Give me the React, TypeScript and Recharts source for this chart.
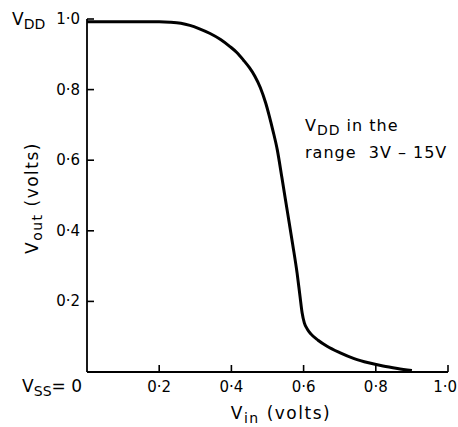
import React from "react";
import { LineChart, Line, XAxis, YAxis } from "recharts";

const vin = [0, 0.1, 0.2, 0.23, 0.26, 0.285, 0.31, 0.341, 0.37, 0.396, 0.415, 0.433, 0.45, 0.465, 0.48, 0.495, 0.505, 0.515, 0.527, 0.54, 0.555, 0.57, 0.582, 0.59, 0.596, 0.602, 0.61, 0.62, 0.64, 0.665, 0.7, 0.74, 0.78, 0.82, 0.86, 0.9];
const vout = [0.992, 0.992, 0.992, 0.991, 0.988, 0.982, 0.973, 0.959, 0.942, 0.922, 0.905, 0.884, 0.862, 0.838, 0.806, 0.762, 0.725, 0.684, 0.63, 0.55, 0.455, 0.36, 0.28, 0.215, 0.167, 0.139, 0.122, 0.108, 0.09, 0.073, 0.055, 0.038, 0.026, 0.017, 0.01, 0.004];
const xTicks = [0, 0.2, 0.4, 0.6, 0.8, 1.0];
const yTicks = [0.2, 0.4, 0.6, 0.8, 1.0];
const xTickLabels = ["0", "0·2", "0·4", "0·6", "0·8", "1·0"];
const yTickLabels = ["0·2", "0·4", "0·6", "0·8", "1·0"];

const data = vin.map((v, i) => ({ vin: v, vout: vout[i] }));

const FONT = "'DejaVu Sans', sans-serif";

const XTick = (props: any) => {
  const { x, y, payload } = props;
  const idx = xTicks.indexOf(payload.value);
  const axisY = y - 6;
  if (payload.value === 0) {
    return (
      <g>
        <text x={x - 5} y={axisY + 20} textAnchor="end" fontFamily={FONT} fontSize={17} fill="#000">
          <tspan>V</tspan>
          <tspan dy={4} fontSize={14}>SS</tspan>
          <tspan dy={-4}>= 0</tspan>
        </text>
      </g>
    );
  }
  const isLast = payload.value === 1;
  return (
    <g>
      <line x1={x} x2={x} y1={axisY} y2={axisY - 7} stroke="#000" strokeWidth={1.6} />
      <text
        x={isLast ? x + 9 : x}
        y={axisY + 20}
        textAnchor={isLast ? "end" : "middle"}
        fontFamily={FONT}
        fontSize={15}
        fill="#000"
      >
        {xTickLabels[idx]}
      </text>
    </g>
  );
};

const YTick = (props: any) => {
  const { x, y, payload } = props;
  const idx = yTicks.indexOf(payload.value);
  const axisX = x + 7;
  return (
    <g>
      <line x1={axisX} x2={axisX + 7} y1={y} y2={y} stroke="#000" strokeWidth={1.6} />
      <text x={x} y={y + 5} textAnchor="end" fontFamily={FONT} fontSize={15} fill="#000">
        {yTickLabels[idx]}
      </text>
      {payload.value === 1 && (
        <text x={x - 68} y={y + 6} fontFamily={FONT} fontSize={17} fill="#000">
          <tspan>V</tspan>
          <tspan dy={4} fontSize={14}>DD</tspan>
        </text>
      )}
    </g>
  );
};

export default function App() {
  return (
    <div style={{ position: "absolute", left: 0, top: 0, background: "#fff" }}>
      <LineChart width={458} height={427} data={data} margin={{ top: 19, right: 10, bottom: 0, left: 0 }}>
        <XAxis
          dataKey="vin"
          type="number"
          domain={[0, 1]}
          ticks={xTicks}
          tick={<XTick />}
          tickSize={0}
          tickMargin={6}
          axisLine={{ stroke: "#000", strokeWidth: 1.8 }}
          height={55}
          interval={0}
          allowDataOverflow
        />
        <YAxis
          type="number"
          domain={[0, 1]}
          ticks={yTicks}
          tick={<YTick />}
          tickSize={0}
          tickMargin={7}
          axisLine={{ stroke: "#000", strokeWidth: 1.8 }}
          width={87}
          interval={0}
        />
        <Line
          dataKey="vout"
          type="monotone"
          stroke="#000"
          strokeWidth={3}
          dot={false}
          isAnimationActive={false}
        />
        <text x={281} y={419} textAnchor="middle" fontFamily={FONT} fontSize={17} fill="#000" letterSpacing={1.5}>
          <tspan>V</tspan>
          <tspan dy={4} fontSize={14}>in</tspan>
          <tspan dy={-4}>{"\u00a0(volts)"}</tspan>
        </text>
        <text
          x={0}
          y={0}
          transform="translate(38,198) rotate(-90)"
          textAnchor="middle"
          fontFamily={FONT}
          fontSize={17}
          fill="#000"
          letterSpacing={1.5}
        >
          <tspan>V</tspan>
          <tspan dy={4} fontSize={14}>out</tspan>
          <tspan dy={-4}>{"\u00a0(volts)"}</tspan>
        </text>
        <text x={305} y={131} fontFamily={FONT} fontSize={16} fill="#000" letterSpacing={1}>
          <tspan>V</tspan>
          <tspan dy={4} fontSize={14}>DD</tspan>
          <tspan dy={-4}>{"\u00a0in the"}</tspan>
        </text>
        <text x={305} y={158} fontFamily={FONT} fontSize={16} fill="#000" letterSpacing={1}>
          {"range\u00a0\u00a03V\u00a0–\u00a015V"}
        </text>
      </LineChart>
    </div>
  );
}
